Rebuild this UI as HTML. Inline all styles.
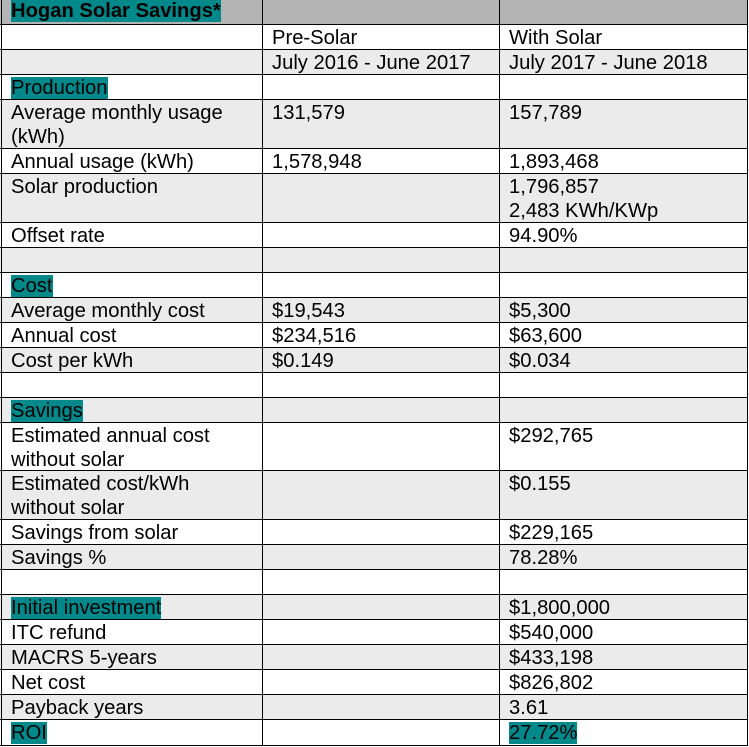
<!DOCTYPE html>
<html>
<head>
<meta charset="utf-8">
<style>
  html,body{margin:0;padding:0;background:#fff;}
  #t{position:relative;width:749px;height:747px;overflow:hidden;background:#fff;
     font-family:"Liberation Sans",Arial,Helvetica,sans-serif;font-size:20.2px;line-height:24px;color:#000;}
  .bg{position:absolute;left:0;width:748px;}
  .h{position:absolute;left:0;width:748px;height:1px;background:#000;}
  .v{position:absolute;top:0;width:1px;height:746px;background:#000;}
  .c{position:absolute;white-space:nowrap;margin-top:1.5px;}
  .c1{left:11px;}
  .c2{left:272px;}
  .c3{left:509px;}
  .hl{background:#00888a;}
  .g{background:#ebebeb;}
  .hd{background:#b4b4b4;}
</style>
</head>
<body>
<div id="t">
  <!-- row backgrounds -->
  <div class="bg hd" style="top:0;height:24px"></div>
  <div class="bg g" style="top:49px;height:25px"></div>
  <div class="bg g" style="top:99px;height:49px"></div>
  <div class="bg g" style="top:173px;height:49px"></div>
  <div class="bg g" style="top:247px;height:25px"></div>
  <div class="bg g" style="top:297px;height:25px"></div>
  <div class="bg g" style="top:347px;height:25px"></div>
  <div class="bg g" style="top:397px;height:25px"></div>
  <div class="bg g" style="top:470px;height:49px"></div>
  <div class="bg g" style="top:544px;height:25px"></div>
  <div class="bg g" style="top:594px;height:25px"></div>
  <div class="bg g" style="top:644px;height:25px"></div>
  <div class="bg g" style="top:694px;height:25px"></div>

  <!-- horizontal lines -->
  <div class="h" style="top:24px"></div>
  <div class="h" style="top:49px"></div>
  <div class="h" style="top:74px"></div>
  <div class="h" style="top:99px"></div>
  <div class="h" style="top:148px"></div>
  <div class="h" style="top:173px"></div>
  <div class="h" style="top:222px"></div>
  <div class="h" style="top:247px"></div>
  <div class="h" style="top:272px"></div>
  <div class="h" style="top:297px"></div>
  <div class="h" style="top:322px"></div>
  <div class="h" style="top:347px"></div>
  <div class="h" style="top:372px"></div>
  <div class="h" style="top:397px"></div>
  <div class="h" style="top:422px"></div>
  <div class="h" style="top:470px"></div>
  <div class="h" style="top:519px"></div>
  <div class="h" style="top:544px"></div>
  <div class="h" style="top:569px"></div>
  <div class="h" style="top:594px"></div>
  <div class="h" style="top:619px"></div>
  <div class="h" style="top:644px"></div>
  <div class="h" style="top:669px"></div>
  <div class="h" style="top:694px"></div>
  <div class="h" style="top:719px"></div>
  <div class="h" style="top:745px"></div>

  <!-- vertical lines -->
  <div class="v" style="left:1px"></div>
  <div class="v" style="left:262px"></div>
  <div class="v" style="left:499px"></div>
  <div class="v" style="left:747px"></div>

  <!-- text -->
  <div class="c c1" style="top:-2.5px;font-weight:bold"><span class="hl">Hogan Solar Savings*</span></div>

  <div class="c c2" style="top:24.5px">Pre-Solar</div>
  <div class="c c3" style="top:24.5px">With Solar</div>

  <div class="c c2" style="top:49.5px">July 2016 - June 2017</div>
  <div class="c c3" style="top:49.5px">July 2017 - June 2018</div>

  <div class="c c1" style="top:74.5px"><span class="hl">Production</span></div>

  <div class="c c1" style="top:99.5px">Average monthly usage<br>(kWh)</div>
  <div class="c c2" style="top:99.5px">131,579</div>
  <div class="c c3" style="top:99.5px">157,789</div>

  <div class="c c1" style="top:148.5px">Annual usage (kWh)</div>
  <div class="c c2" style="top:148.5px">1,578,948</div>
  <div class="c c3" style="top:148.5px">1,893,468</div>

  <div class="c c1" style="top:173.5px">Solar production</div>
  <div class="c c3" style="top:173.5px">1,796,857<br>2,483 KWh/KWp</div>

  <div class="c c1" style="top:222.5px">Offset rate</div>
  <div class="c c3" style="top:222.5px">94.90%</div>

  <div class="c c1" style="top:272.5px"><span class="hl">Cost</span></div>

  <div class="c c1" style="top:297.5px">Average monthly cost</div>
  <div class="c c2" style="top:297.5px">$19,543</div>
  <div class="c c3" style="top:297.5px">$5,300</div>

  <div class="c c1" style="top:322.5px">Annual cost</div>
  <div class="c c2" style="top:322.5px">$234,516</div>
  <div class="c c3" style="top:322.5px">$63,600</div>

  <div class="c c1" style="top:347.5px">Cost per kWh</div>
  <div class="c c2" style="top:347.5px">$0.149</div>
  <div class="c c3" style="top:347.5px">$0.034</div>

  <div class="c c1" style="top:397.5px"><span class="hl">Savings</span></div>

  <div class="c c1" style="top:422.5px">Estimated annual cost<br>without solar</div>
  <div class="c c3" style="top:422.5px">$292,765</div>

  <div class="c c1" style="top:470.5px">Estimated cost/kWh<br>without solar</div>
  <div class="c c3" style="top:470.5px">$0.155</div>

  <div class="c c1" style="top:519.5px">Savings from solar</div>
  <div class="c c3" style="top:519.5px">$229,165</div>

  <div class="c c1" style="top:544.5px">Savings %</div>
  <div class="c c3" style="top:544.5px">78.28%</div>

  <div class="c c1" style="top:594.5px"><span class="hl">Initial investment</span></div>
  <div class="c c3" style="top:594.5px">$1,800,000</div>

  <div class="c c1" style="top:619.5px">ITC refund</div>
  <div class="c c3" style="top:619.5px">$540,000</div>

  <div class="c c1" style="top:644.5px">MACRS 5-years</div>
  <div class="c c3" style="top:644.5px">$433,198</div>

  <div class="c c1" style="top:669.5px">Net cost</div>
  <div class="c c3" style="top:669.5px">$826,802</div>

  <div class="c c1" style="top:694.5px">Payback years</div>
  <div class="c c3" style="top:694.5px">3.61</div>

  <div class="c c1" style="top:719.5px"><span class="hl">ROI</span></div>
  <div class="c c3" style="top:719.5px"><span class="hl">27.72%</span></div>
</div>
</body>
</html>
